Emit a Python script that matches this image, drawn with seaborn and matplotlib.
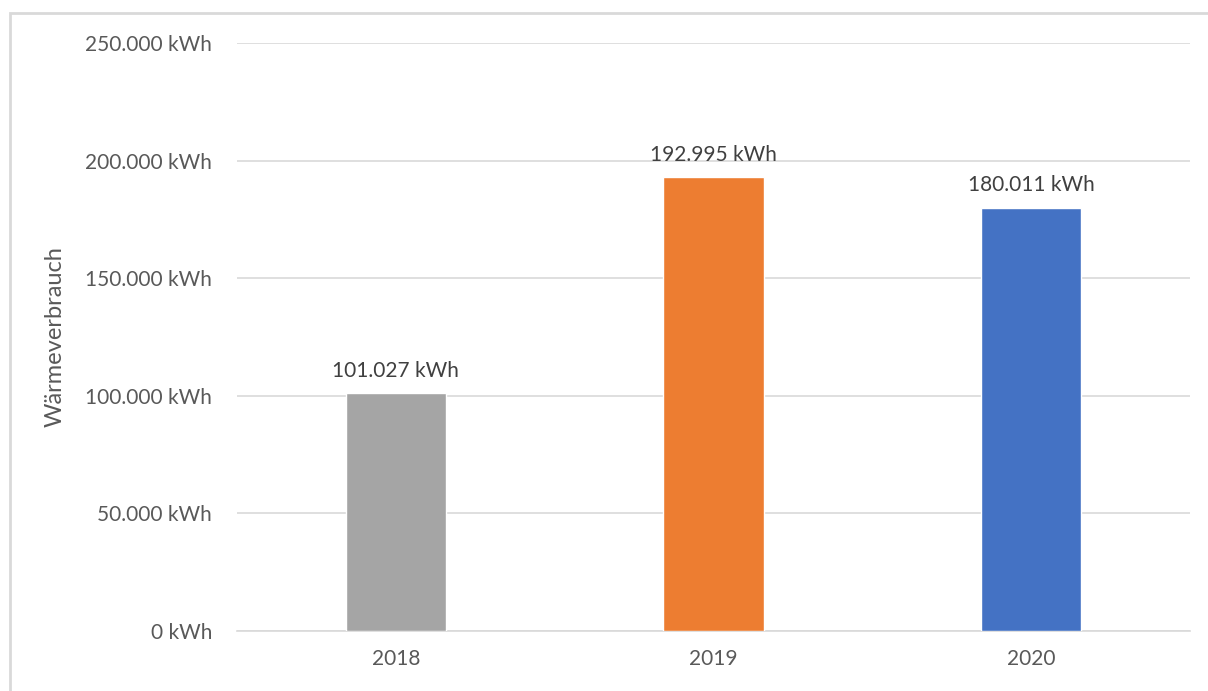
import matplotlib
matplotlib.use("Agg")
import matplotlib.pyplot as plt
from matplotlib.patches import Rectangle
import seaborn as sns
import pandas as pd

years = ["2018", "2019", "2020"]
consumption = [101027, 192995, 180011]
bar_colors = ["#A5A5A5", "#ED7D31", "#4472C4"]
y_ticks = [0, 50000, 100000, 150000, 200000, 250000]


def de_kwh(v):
    return f"{v:,.0f}".replace(",", ".") + " kWh"


sns.set_theme(style="white")
plt.rcParams["font.family"] = ["Lato", "DejaVu Sans"]

df = pd.DataFrame({"Jahr": years, "Wärmeverbrauch": consumption})

fig = plt.figure(figsize=(12.08, 6.91), dpi=100)
ax = fig.add_axes([237 / 1208, 1 - 631 / 691, (1190 - 237) / 1208, (631 - 43) / 691])

sns.barplot(data=df, x="Jahr", y="Wärmeverbrauch", hue="Jahr",
            palette=bar_colors, width=0.315, legend=False, ax=ax,
            saturation=1, zorder=3)

ax.set_ylim(0, 250000)
ax.set_yticks(y_ticks)
ax.set_yticklabels([de_kwh(v) for v in y_ticks])
ax.grid(axis="y", color="#D9D9D9", linewidth=1.2, zorder=0)
ax.set_axisbelow(True)
for side in ["top", "right", "left"]:
    ax.spines[side].set_visible(False)
ax.spines["bottom"].set_color("#D9D9D9")
ax.spines["bottom"].set_linewidth(1.2)
ax.tick_params(axis="both", length=0, labelsize=15, colors="#595959")
ax.tick_params(axis="y", pad=18)
ax.tick_params(axis="x", pad=13)
ax.set_xlabel("")
ax.set_ylabel("Wärmeverbrauch", fontsize=17, color="#595959", labelpad=14)

for i, v in enumerate(consumption):
    ax.annotate(de_kwh(v), (i, v), xytext=(0, 9), textcoords="offset points",
                ha="center", va="bottom", fontsize=15, color="#404040")

fig.patches.append(Rectangle((10 / 1208, -0.01), 1.02, 1 - 13 / 691 + 0.01,
                             transform=fig.transFigure, fill=False,
                             edgecolor="#D9D9D9", linewidth=2))

fig.savefig("out.png", dpi=100)
